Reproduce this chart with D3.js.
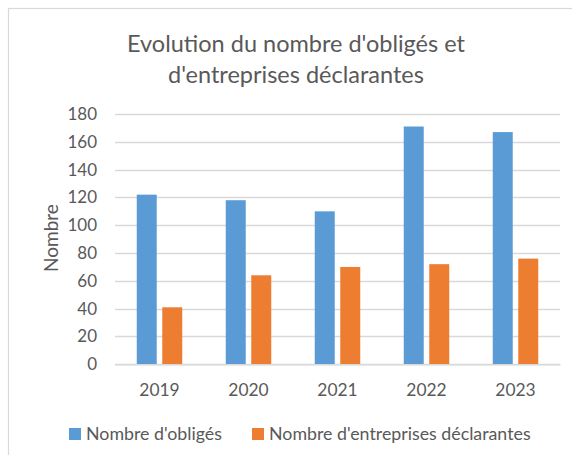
<!DOCTYPE html>
<html>
<head>
<meta charset="utf-8">
<script src="https://cdn.jsdelivr.net/npm/d3@7"></script>
<style>
  html, body { margin: 0; padding: 0; background: #fff; }
  svg { display: block; font-family: Lato, "Open Sans", sans-serif; }
</style>
</head>
<body>
<svg id="chart" width="572" height="455"></svg>
<script>
// Data
const years = ["2019", "2020", "2021", "2022", "2023"];
const obliges = [122, 118, 110, 171, 167];
const entreprises = [41, 64, 70, 72, 76];
const seriesNames = ["Nombre d'obligés", "Nombre d'entreprises déclarantes"];
const yTicks = [0, 20, 40, 60, 80, 100, 120, 140, 160, 180];
const titleLines = ["Evolution du nombre d'obligés et", "d'entreprises déclarantes"];
const yTitle = "Nombre";

const colors = ["#5b9bd5", "#ed7d31"];
const textColor = "#595959";
const gridColor = "#d9d9d9";
const fontStack = "Lato, 'Open Sans', sans-serif";

const svg = d3.select("#chart");

// Chart frame
svg.append("rect")
  .attr("x", 8.5).attr("y", 8.5)
  .attr("width", 600).attr("height", 480)
  .attr("fill", "#fff")
  .attr("stroke", gridColor).attr("stroke-width", 1.2);

const plot = { left: 115, right: 560, top: 114, bottom: 364.3 };

const y = d3.scaleLinear().domain([0, 180]).range([plot.bottom, plot.top]);
const x0 = d3.scaleBand().domain(years).range([plot.left, plot.right]).padding(0);
const x1 = d3.scaleBand().domain([0, 1]).range([0, 45.5]).paddingInner(0.216);
const groupOffset = (x0.bandwidth() - 45.5) / 2;

// Gridlines
svg.append("g")
  .selectAll("line")
  .data(yTicks)
  .join("line")
  .attr("x1", plot.left).attr("x2", plot.right)
  .attr("y1", d => Math.round(y(d)) + 0.5).attr("y2", d => Math.round(y(d)) + 0.5)
  .attr("stroke", gridColor).attr("stroke-width", 1.5);

// Y axis tick labels
const yAxis = d3.axisLeft(y).tickValues(yTicks).tickSize(0).tickPadding(0);
const gy = svg.append("g")
  .attr("transform", `translate(97,0)`)
  .call(yAxis);
gy.select(".domain").remove();
gy.selectAll("text")
  .attr("fill", textColor)
  .style("font-size", "17px")
  .style("font-family", fontStack);

// Bars
const rows = years.map((yr, i) => ({ year: yr, values: [obliges[i], entreprises[i]] }));
const groups = svg.append("g")
  .selectAll("g")
  .data(rows)
  .join("g")
  .attr("transform", d => `translate(${x0(d.year) + groupOffset},0)`);

groups.selectAll("rect")
  .data(d => d.values.map((v, k) => ({ k, v })))
  .join("rect")
  .attr("x", d => x1(d.k))
  .attr("width", x1.bandwidth())
  .attr("y", d => y(d.v))
  .attr("height", d => y(0) - y(d.v))
  .attr("fill", d => colors[d.k]);

// X axis
const xAxis = d3.axisBottom(x0).tickSize(0).tickPadding(0);
const gx = svg.append("g")
  .attr("transform", `translate(0,${plot.bottom})`)
  .call(xAxis);
gx.select(".domain")
  .attr("stroke", gridColor).attr("stroke-width", 1.5);
gx.selectAll("text")
  .attr("fill", textColor)
  .attr("dy", null)
  .attr("y", 32)
  .style("font-size", "17.4px")
  .style("font-family", fontStack);

// Y axis title
svg.append("text")
  .attr("transform", "translate(58,238) rotate(-90)")
  .attr("text-anchor", "middle")
  .attr("fill", textColor)
  .style("font-size", "19px")
  .text(yTitle);

// Title
svg.append("g")
  .selectAll("text")
  .data(titleLines)
  .join("text")
  .attr("x", 296)
  .attr("y", (d, i) => 52 + i * 31)
  .attr("text-anchor", "middle")
  .attr("fill", textColor)
  .style("font-size", "23.5px")
  .text(d => d);

// Legend
const legendX = [69, 252];
const legend = svg.append("g")
  .selectAll("g")
  .data(seriesNames)
  .join("g")
  .attr("transform", (d, i) => `translate(${legendX[i]},0)`);
legend.append("rect")
  .attr("x", 0).attr("y", 428)
  .attr("width", 12).attr("height", 12)
  .attr("fill", (d, i) => colors[i]);
legend.append("text")
  .attr("x", 17).attr("y", 439.5)
  .attr("fill", textColor)
  .style("font-size", "17.8px")
  .text(d => d);
</script>
</body>
</html>
